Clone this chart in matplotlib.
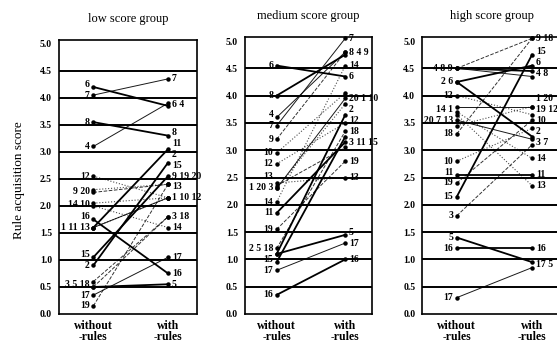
import matplotlib
matplotlib.use("Agg")
import matplotlib.pyplot as plt

# student ids 1..20 per group
ids = list(range(1, 21))

titles = ["low score group", "medium score group", "high score group"]
xticklabels = ["without\n-rules", "with\n-rules"]
yticks = [0.0, 0.5, 1.0, 1.5, 2.0, 2.5, 3.0, 3.5, 4.0, 4.5, 5.0]

low_without = [1.6, 0.9, 0.5, 3.1, 0.5, 4.2, 4.05, 3.55, 2.25, 2.05,
               1.6, 2.55, 1.6, 2.0, 1.05, 1.75, 0.35, 0.6, 0.15, 2.3]
low_with = [2.15, 2.8, 1.8, 3.9, 0.55, 3.85, 4.35, 3.3, 2.4, 2.15,
            3.05, 2.15, 2.15, 1.6, 2.55, 0.75, 1.05, 1.8, 2.4, 2.4]

med_without = [2.3, 1.1, 2.35, 3.6, 1.1, 4.55, 3.45, 4.0, 3.2, 2.95,
               1.85, 2.75, 2.4, 2.05, 0.95, 0.35, 0.8, 1.2, 1.55, 2.3]
med_with = [3.95, 3.65, 3.05, 4.8, 1.45, 4.35, 5.05, 4.75, 4.8, 4.05,
            3.15, 3.5, 2.5, 4.55, 3.25, 1.0, 1.3, 3.35, 2.8, 3.85]

high_without = [3.8, 4.25, 1.8, 4.5, 1.4, 4.25, 3.55, 4.5, 4.5, 2.8,
                2.55, 4.0, 3.65, 3.7, 2.15, 1.2, 0.3, 3.3, 2.4, 3.45]
high_with = [3.8, 3.25, 3.1, 4.35, 0.95, 4.55, 3.2, 4.45, 5.05, 3.4,
             2.55, 3.65, 2.35, 2.85, 4.75, 1.2, 0.85, 5.05, 3.55, 3.8]

groups = [
    (low_without, low_with),
    (med_without, med_with),
    (high_without, high_with),
]

# line styles per student (ls, lw, alpha)
styles = {
    "thick": ("-", 1.3, 1.0),
    "thin": ("-", 0.7, 0.9),
    "dash": ("--", 0.7, 0.8),
    "dot": (":", 0.8, 0.7),
}
style_order = ["thin", "thick", "dash", "thin", "thick", "thick", "thin", "thick",
               "dash", "dot", "thick", "dot", "dot", "dot", "thick", "thick",
               "thin", "dash", "dash", "dot"]

FONT = "Liberation Serif"


def label_layout(values, names, tol=0.12, gap=0.2, most=3):
    # join labels sitting at (almost) the same height, then spread vertically
    order = sorted(range(len(values)), key=lambda i: values[i])
    clusters = []
    for i in order:
        if clusters and values[i] - clusters[-1][-1][0] < tol and len(clusters[-1]) < most:
            clusters[-1].append((values[i], names[i]))
        else:
            clusters.append([(values[i], names[i])])
    out = []
    for c in clusters:
        y = sum(v for v, _ in c) / len(c)
        out.append([y, " ".join(str(n) for _, n in c)])
    for j in range(1, len(out)):
        if out[j][0] - out[j - 1][0] < gap:
            out[j][0] = out[j - 1][0] + gap
    return out


fig = plt.figure(figsize=(5.57, 3.46), dpi=100)
fig.patch.set_facecolor("white")

positions = [
    [0.106, 0.0925, 0.248, 0.792],
    [0.440, 0.0925, 0.228, 0.800],
    [0.758, 0.0925, 0.250, 0.800],
]

for k, (pos, (wo, wi)) in enumerate(zip(positions, groups)):
    ax = fig.add_axes(pos)
    ax.set_xlim(-0.46, 1.39)
    ax.set_ylim(0, 5.07)
    for y in yticks[1:-1]:
        ax.axhline(y, color="black", lw=1.4, zorder=1)
    for i, sid in enumerate(ids):
        ls, lw, al = styles[style_order[i]]
        ax.plot([0, 1], [wo[i], wi[i]], color="black", ls=ls, lw=lw,
                alpha=al, zorder=2, clip_on=False)
        ax.plot([0, 1], [wo[i], wi[i]], "o", color="black", ms=2.2,
                zorder=3, clip_on=False)
    for y, s in label_layout(wo, ids):
        ax.text(-0.05, y, s, ha="right", va="center", fontsize=7,
                fontweight="bold", family=FONT, clip_on=False)
    for y, s in label_layout(wi, ids, most=2 if k == 2 else 3):
        ax.text(1.05, y, s, ha="left", va="center", fontsize=7,
                fontweight="bold", family=FONT, clip_on=False)
    ax.set_yticks(yticks)
    ax.set_yticklabels([f"{v:.1f}" for v in yticks], fontsize=7,
                       fontweight="bold", family=FONT)
    ax.set_xticks([0, 1])
    ax.set_xticklabels(xticklabels, fontsize=8.5, fontweight="bold",
                       family=FONT, linespacing=0.95)
    ax.tick_params(axis="x", length=0, pad=4)
    ax.tick_params(axis="y", length=0, pad=5)
    for sp in ax.spines.values():
        sp.set_linewidth(1.2)
    ax.set_title(titles[k], fontsize=9, family=FONT, pad=13)

fig.text(0.035, 0.48, "Rule acquisition score", rotation=90, ha="center",
         va="center", fontsize=9.5, family=FONT)

fig.savefig("out.png", dpi=100, facecolor="white")
